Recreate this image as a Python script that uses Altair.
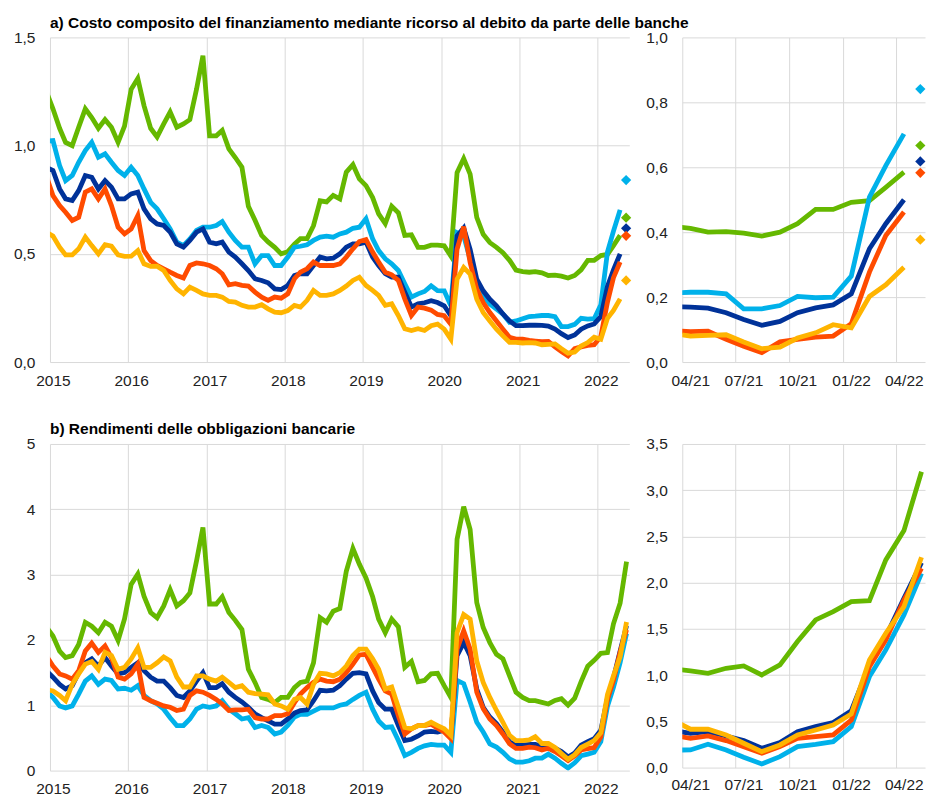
import altair as alt
import pandas as pd

FONT = "Liberation Sans"
SERIES = ["Italia", "Spagna", "Area dell'euro", "Francia", "Germania"]
COLORS = ["#65b800", "#00b1ea", "#003299", "#ff4b00", "#ffb400"]

TITLE_A = "a) Costo composito del finanziamento mediante ricorso al debito da parte delle banche"
TITLE_B = "b) Rendimenti delle obbligazioni bancarie"

# monthly observations (mid-month), Dec 2014 .. Apr 2022 (panel a) / May 2022 (panel b)
A_GREEN = [1.25,
    1.17, 1.08, 1.015, 1.0, 1.085, 1.17, 1.13, 1.08, 1.12, 1.085, 1.015, 1.09,
    1.26, 1.31, 1.185, 1.08, 1.04, 1.1, 1.155, 1.085, 1.1, 1.12, 1.26, 1.415,
    1.045, 1.045, 1.07, 0.985, 0.945, 0.9, 0.72, 0.655, 0.585, 0.555, 0.53, 0.5,
    0.51, 0.545, 0.57, 0.57, 0.63, 0.745, 0.74, 0.77, 0.754, 0.877, 0.912, 0.846,
    0.815, 0.76, 0.685, 0.64, 0.72, 0.69, 0.585, 0.588, 0.53, 0.53, 0.54, 0.54,
    0.537, 0.49, 0.875, 0.94, 0.868, 0.668, 0.59, 0.552, 0.53, 0.505, 0.47, 0.425,
    0.418, 0.415, 0.418, 0.412, 0.40, 0.402, 0.397, 0.388, 0.40, 0.426, 0.47, 0.47,
    0.492, 0.497, 0.538, 0.585]
A_CYAN = [1.02,
    1.023, 0.908, 0.838, 0.862, 0.923, 0.977, 1.015, 0.946, 0.962, 0.923, 0.885, 0.862,
    0.9, 0.862, 0.8, 0.738, 0.708, 0.662, 0.615, 0.554, 0.538, 0.569, 0.608, 0.623,
    0.623, 0.631, 0.649, 0.6, 0.562, 0.531, 0.531, 0.454, 0.492, 0.492, 0.446, 0.446,
    0.485, 0.531, 0.535, 0.542, 0.562, 0.577, 0.582, 0.577, 0.592, 0.6, 0.618, 0.623,
    0.662, 0.569, 0.515, 0.477, 0.454, 0.423, 0.362, 0.3, 0.315, 0.326, 0.352, 0.33,
    0.329, 0.26, 0.598, 0.583, 0.475, 0.368, 0.306, 0.268, 0.245, 0.222, 0.183, 0.19,
    0.2, 0.21, 0.212, 0.215, 0.215, 0.21, 0.164, 0.164, 0.174, 0.202, 0.198, 0.2,
    0.265, 0.508, 0.605, 0.703]
A_BLUE = [0.9,
    0.885, 0.8, 0.754, 0.746, 0.792, 0.862, 0.854, 0.8, 0.838, 0.808, 0.754, 0.754,
    0.777, 0.785, 0.708, 0.662, 0.638, 0.631, 0.6, 0.546, 0.531, 0.562, 0.6, 0.615,
    0.554, 0.546, 0.554, 0.508, 0.485, 0.454, 0.423, 0.385, 0.377, 0.366, 0.338, 0.335,
    0.354, 0.4, 0.408, 0.408, 0.446, 0.485, 0.477, 0.48, 0.5, 0.531, 0.546, 0.546,
    0.554, 0.485, 0.446, 0.408, 0.392, 0.392, 0.323, 0.254, 0.269, 0.274, 0.283, 0.275,
    0.26, 0.214, 0.583, 0.62, 0.521, 0.383, 0.329, 0.29, 0.26, 0.222, 0.19, 0.168,
    0.168, 0.17, 0.171, 0.169, 0.166, 0.152, 0.131, 0.113, 0.125, 0.152, 0.167, 0.176,
    0.21, 0.349, 0.426, 0.5]
A_RED = [0.86,
    0.769, 0.723, 0.692, 0.654, 0.669, 0.785, 0.8, 0.754, 0.8, 0.723, 0.623, 0.592,
    0.615, 0.677, 0.515, 0.469, 0.446, 0.431, 0.415, 0.4, 0.388, 0.446, 0.458, 0.454,
    0.446, 0.431, 0.408, 0.357, 0.362, 0.354, 0.351, 0.323, 0.3, 0.285, 0.3, 0.295,
    0.315, 0.385, 0.415, 0.431, 0.462, 0.446, 0.446, 0.446, 0.454, 0.485, 0.523, 0.557,
    0.566, 0.508, 0.462, 0.415, 0.403, 0.377, 0.292, 0.215, 0.254, 0.249, 0.24, 0.22,
    0.214, 0.175, 0.521, 0.626, 0.46, 0.337, 0.275, 0.229, 0.19, 0.152, 0.114, 0.106,
    0.106, 0.1, 0.097, 0.094, 0.095, 0.07, 0.049, 0.029, 0.062, 0.07, 0.077, 0.08,
    0.118, 0.277, 0.39, 0.462]
A_YELLOW = [0.6,
    0.582, 0.531, 0.495, 0.495, 0.523, 0.577, 0.538, 0.5, 0.542, 0.535, 0.495, 0.488,
    0.489, 0.515, 0.454, 0.442, 0.443, 0.423, 0.377, 0.338, 0.315, 0.346, 0.331, 0.315,
    0.308, 0.308, 0.3, 0.28, 0.277, 0.262, 0.254, 0.254, 0.265, 0.246, 0.231, 0.228,
    0.238, 0.262, 0.254, 0.285, 0.331, 0.308, 0.308, 0.315, 0.331, 0.351, 0.377, 0.392,
    0.354, 0.331, 0.308, 0.262, 0.269, 0.215, 0.154, 0.146, 0.154, 0.146, 0.168, 0.175,
    0.152, 0.106, 0.383, 0.437, 0.406, 0.29, 0.229, 0.19, 0.152, 0.121, 0.091, 0.091,
    0.088, 0.09, 0.088, 0.08, 0.082, 0.084, 0.062, 0.041, 0.046, 0.074, 0.09, 0.115,
    0.105, 0.202, 0.238, 0.292]
# latest values (diamonds), panel a
A_LATEST = [0.667, 0.841, 0.618, 0.583, 0.377]
LATEST_DATE = "2022-05-13T00:00:00"

B_GREEN = [2.2,
    2.06, 1.83, 1.73, 1.76, 1.93, 2.27, 2.21, 2.11, 2.27, 2.21, 1.99, 2.32,
    2.85, 3.01, 2.67, 2.42, 2.34, 2.52, 2.77, 2.52, 2.6, 2.72, 3.21, 3.72,
    2.55, 2.55, 2.66, 2.42, 2.3, 2.16, 1.55, 1.35, 1.12, 1.09, 1.04, 1.12,
    1.12, 1.27, 1.35, 1.37, 1.65, 2.34, 2.27, 2.44, 2.48, 3.05, 3.4, 3.16,
    2.95, 2.66, 2.32, 2.11, 2.32, 2.2, 1.58, 1.67, 1.36, 1.38, 1.48, 1.49,
    1.30, 1.12, 3.54, 4.04, 3.69, 2.57, 2.19, 1.96, 1.78, 1.71, 1.45, 1.2,
    1.12, 1.07, 1.07, 1.045, 1.02, 1.074, 1.1, 1.002, 1.11, 1.363, 1.597, 1.687,
    1.795, 1.806, 2.246, 2.563, 3.2]
B_CYAN = [1.22,
    1.12, 0.99, 0.96, 0.99, 1.17, 1.37, 1.45, 1.32, 1.4, 1.38, 1.25, 1.26,
    1.23, 1.3, 1.15, 1.07, 1.02, 0.94, 0.81, 0.69, 0.69, 0.79, 0.94, 0.99,
    0.97, 0.99, 1.07, 0.94, 0.87, 0.79, 0.81, 0.66, 0.69, 0.66, 0.56, 0.59,
    0.69, 0.82, 0.86, 0.86, 0.91, 0.96, 0.96, 0.96, 1.0, 1.02, 1.09, 1.15,
    1.2, 0.94, 0.76, 0.66, 0.67, 0.46, 0.23, 0.28, 0.34, 0.38, 0.40, 0.39,
    0.39, 0.28, 1.38, 1.33, 1.05, 0.74, 0.59, 0.41, 0.36, 0.28, 0.18, 0.13,
    0.13, 0.15, 0.19, 0.191, 0.252, 0.191, 0.112, 0.04, 0.119, 0.227, 0.252, 0.281,
    0.443, 0.984, 1.273, 1.651, 2.1]
B_BLUE = [1.53,
    1.43, 1.32, 1.25, 1.3, 1.5, 1.65, 1.71, 1.6, 1.73, 1.6, 1.48, 1.5,
    1.58, 1.65, 1.53, 1.43, 1.37, 1.37, 1.27, 1.15, 1.12, 1.22, 1.37, 1.5,
    1.27, 1.27, 1.33, 1.2, 1.12, 1.05, 0.97, 0.87, 0.81, 0.76, 0.71, 0.71,
    0.79, 0.88, 0.92, 0.93, 1.07, 1.23, 1.22, 1.23, 1.3, 1.4, 1.49, 1.5,
    1.48, 1.22, 1.04, 0.94, 0.94, 0.69, 0.46, 0.48, 0.53, 0.59, 0.6, 0.59,
    0.62, 0.52, 1.76, 1.96, 1.76, 1.25, 0.97, 0.82, 0.72, 0.59, 0.44, 0.39,
    0.39, 0.40, 0.40, 0.371, 0.389, 0.342, 0.292, 0.209, 0.27, 0.389, 0.443, 0.487,
    0.616, 1.11, 1.417, 1.831, 2.217]
B_RED = [1.76,
    1.6, 1.48, 1.45, 1.4, 1.53, 1.83, 1.95, 1.81, 1.91, 1.73, 1.43, 1.4,
    1.48, 1.63, 1.12, 1.07, 1.03, 0.99, 0.97, 0.92, 0.94, 1.15, 1.22, 1.2,
    1.15, 1.09, 1.02, 0.92, 0.93, 0.93, 0.94, 0.81, 0.79, 0.79, 0.84, 0.84,
    0.87, 1.04, 1.17, 1.27, 1.35, 1.4, 1.37, 1.36, 1.4, 1.5, 1.63, 1.77,
    1.78, 1.58, 1.4, 1.22, 1.17, 0.84, 0.56, 0.64, 0.69, 0.69, 0.71, 0.65,
    0.59, 0.49, 1.86, 2.14, 1.86, 1.2, 0.95, 0.79, 0.69, 0.56, 0.41, 0.34,
    0.34, 0.36, 0.35, 0.317, 0.342, 0.292, 0.227, 0.155, 0.227, 0.317, 0.335, 0.353,
    0.515, 1.092, 1.381, 1.813, 2.156]
B_YELLOW = [1.24,
    1.22, 1.15, 1.07, 1.32, 1.48, 1.63, 1.67, 1.55, 1.81, 1.76, 1.55, 1.58,
    1.71, 1.88, 1.58, 1.58, 1.65, 1.74, 1.68, 1.43, 1.28, 1.28, 1.45, 1.45,
    1.4, 1.37, 1.43, 1.35, 1.27, 1.3, 1.2, 1.18, 1.17, 1.16, 1.02, 0.99,
    0.94, 1.09, 1.12, 1.02, 1.32, 1.49, 1.48, 1.45, 1.5, 1.6, 1.76, 1.86,
    1.86, 1.71, 1.55, 1.25, 1.28, 0.97, 0.66, 0.64, 0.69, 0.69, 0.74, 0.69,
    0.64, 0.54, 2.11, 2.39, 2.32, 1.68, 1.35, 1.12, 0.92, 0.74, 0.54, 0.46,
    0.46, 0.47, 0.52, 0.415, 0.415, 0.353, 0.263, 0.173, 0.245, 0.353, 0.407, 0.461,
    0.58, 1.164, 1.453, 1.741, 2.275]

A_VALUES = [A_GREEN, A_CYAN, A_BLUE, A_RED, A_YELLOW]
B_VALUES = [B_GREEN, B_CYAN, B_BLUE, B_RED, B_YELLOW]


def month_dates(n):
    start = pd.Timestamp("2014-12-15")
    return [(start + pd.DateOffset(months=i)).strftime("%Y-%m-%dT00:00:00") for i in range(n)]


def long_frame(values):
    rows = []
    for name, vals in zip(SERIES, values):
        for d, v in zip(month_dates(len(vals)), vals):
            rows.append({"series": name, "date": d, "value": v})
    return pd.DataFrame(rows)


df_a = long_frame(A_VALUES)
df_b = long_frame(B_VALUES)
df_a_zoom = df_a[df_a["date"] >= "2021-03-01"]
df_b_zoom = df_b[df_b["date"] >= "2021-03-01"]
df_latest = pd.DataFrame({"series": SERIES, "date": [LATEST_DATE] * 5, "value": A_LATEST})

LEFT_DOMAIN = [alt.DateTime(year=2015, month=1, date=1), alt.DateTime(year=2022, month=5, date=28)]
RIGHT_DOMAIN = [alt.DateTime(year=2021, month=4, date=1), alt.DateTime(year=2022, month=5, date=21)]
YEAR_TICKS = [alt.DateTime(year=y, month=1, date=1) for y in range(2015, 2023)]
QUARTER_TICKS = [alt.DateTime(year=2021, month=4, date=1), alt.DateTime(year=2021, month=7, date=1),
                 alt.DateTime(year=2021, month=10, date=1), alt.DateTime(year=2022, month=1, date=1),
                 alt.DateTime(year=2022, month=4, date=1)]

COMMA1 = "replace(format(datum.value, '.1f'), '.', ',')"


def panel(df, xdomain, xticks, xfmt, xoff, xpad, ydomain, yticks, ylabel_expr, w, h,
          title=None, latest=None):
    x = alt.X("date:T", scale=alt.Scale(domain=xdomain),
              axis=alt.Axis(values=xticks, format=xfmt, labelOffset=xoff, labelPadding=xpad,
                            labelFlush=False, labelOverlap=False, title=None,
                            ticks=False, tickSize=0, domain=False, grid=True))
    yaxis = dict(values=yticks, title=None, ticks=False, tickSize=0, domain=False,
                 grid=True, labelPadding=15, labelOverlap=False)
    if ylabel_expr:
        yaxis["labelExpr"] = ylabel_expr
    y = alt.Y("value:Q", scale=alt.Scale(domain=ydomain, nice=False, zero=False),
              axis=alt.Axis(**yaxis))
    color = alt.Color("series:N", scale=alt.Scale(domain=SERIES, range=COLORS), legend=None)
    layers = [alt.Chart(df).mark_line(clip=True, strokeWidth=4.8).encode(x=x, y=y, color=color)]
    if latest is not None:
        layers.append(alt.Chart(latest).mark_point(shape="diamond", filled=True, size=105,
                                                   opacity=1).encode(x=x, y=y, color=color))
    props = dict(width=w, height=h)
    if title:
        props["title"] = alt.Title(title, anchor="start", frame="group", font=FONT,
                                   fontSize=15.5, fontWeight="bold", color="#000000",
                                   offset=-1, limit=1000)
    return alt.layer(*layers).properties(**props)


tl = panel(df_a, LEFT_DOMAIN, YEAR_TICKS, "%Y", 3, 11, [0, 1.5], [0, 0.5, 1.0, 1.5], COMMA1,
           580, 325, TITLE_A, df_latest)
tr = panel(df_a_zoom, RIGHT_DOMAIN, QUARTER_TICKS, "%m/%y", 8, 11, [0, 1.0],
           [0, 0.2, 0.4, 0.6, 0.8, 1.0], COMMA1, 243, 325, None, df_latest)
bl = panel(df_b, LEFT_DOMAIN, YEAR_TICKS, "%Y", 3, 11, [0, 5], [0, 1, 2, 3, 4, 5], None,
           580, 327, TITLE_B)
br = panel(df_b_zoom, RIGHT_DOMAIN, QUARTER_TICKS, "%m/%y", 8, 10, [0, 3.5],
           [0, 0.5, 1.0, 1.5, 2.0, 2.5, 3.0, 3.5], COMMA1, 243, 324)

chart = alt.concat(tl, tr, bl, br, columns=2, spacing={"row": 82, "column": 53},
                   bounds="flush").properties(
    padding={"left": 5, "top": 7, "right": 0, "bottom": 0}
).configure_view(stroke=None).configure_axis(
    labelFont=FONT, labelFontSize=15.5, labelColor="#222222",
    gridColor="#d9d9d9", gridWidth=1
)

chart.save("out.html", embed_options={"renderer": "svg", "actions": False})
